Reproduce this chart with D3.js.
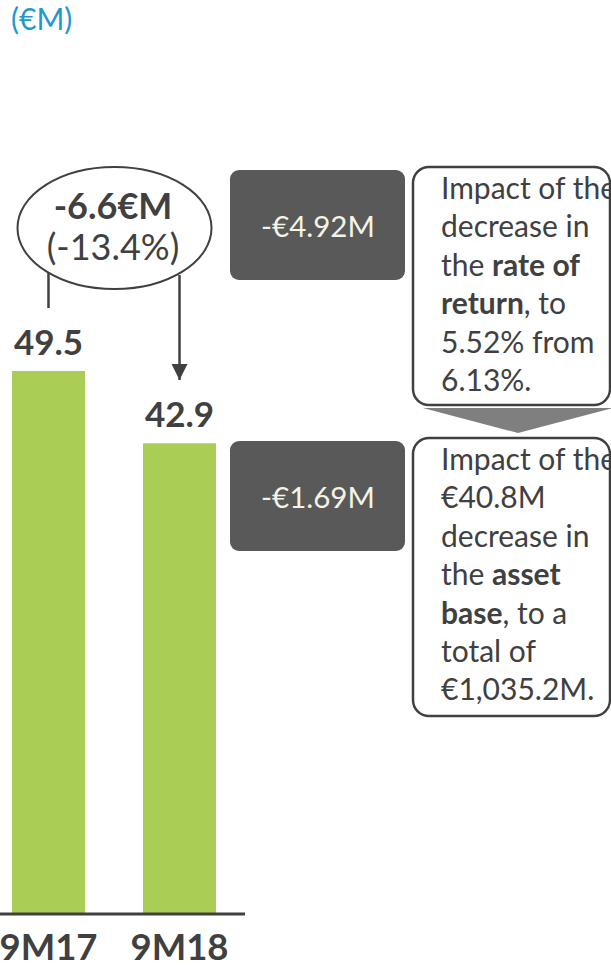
<!DOCTYPE html>
<html>
<head>
<meta charset="utf-8">
<script src="https://cdn.jsdelivr.net/npm/d3@7"></script>
<style>
  body { margin: 0; background: #fff; }
  text { font-family: Lato, "Open Sans", sans-serif; }
</style>
</head>
<body>
<script>
// Datos del gráfico
const categories = ["9M17", "9M18"];
const values = [49.5, 42.9];
const unitLabel = "(€M)";
const changeAbs = "-6.6€M";
const changePct = "(-13.4%)";
const impactValues = ["-€4.92M", "-€1.69M"];
// cada línea: lista de [texto, negrita]
const impactTexts = [
  [
    [["Impact of the", false]],
    [["decrease in", false]],
    [["the ", false], ["rate of", true]],
    [["return", true], [", to", false]],
    [["5.52% from", false]],
    [["6.13%.", false]]
  ],
  [
    [["Impact of the", false]],
    [["€40.8M", false]],
    [["decrease in", false]],
    [["the ", false], ["asset", true]],
    [["base", true], [", to a", false]],
    [["total of", false]],
    [["€1,035.2M.", false]]
  ]
];

const width = 611;
const height = 965;
const dark = "#404040";

const svg = d3.select("body").append("svg")
  .attr("width", width)
  .attr("height", height);

// Escalas
const x = d3.scaleBand()
  .domain(categories)
  .range([12, 216])
  .paddingInner(0.443)
  .paddingOuter(0);

const y = d3.scaleLinear()
  .domain([0, 50])
  .range([913, 365.5]);

// Unidad
svg.append("text")
  .attr("x", 11).attr("y", 30)
  .attr("fill", "#1f97cf")
  .attr("font-size", 30)
  .text(unitLabel);

// Barras
svg.selectAll("rect.bar")
  .data(values)
  .enter()
  .append("rect")
  .attr("class", "bar")
  .attr("x", (d, i) => x(categories[i]))
  .attr("y", d => y(d))
  .attr("width", x.bandwidth())
  .attr("height", d => y(0) - y(d))
  .attr("fill", "#a9cd55");

// Valores
svg.selectAll("text.val")
  .data(values)
  .enter()
  .append("text")
  .attr("class", "val")
  .attr("x", (d, i) => x(categories[i]) + x.bandwidth() / 2)
  .attr("y", d => y(d) - 16)
  .attr("text-anchor", "middle")
  .attr("font-size", 35)
  .attr("font-weight", "bold")
  .attr("fill", dark)
  .text(d => d.toFixed(1));

// Eje
svg.append("line")
  .attr("x1", 0).attr("x2", 245)
  .attr("y1", y(0) + 1).attr("y2", y(0) + 1)
  .attr("stroke", dark)
  .attr("stroke-width", 3);

svg.selectAll("text.cat")
  .data(categories)
  .enter()
  .append("text")
  .attr("class", "cat")
  .attr("x", d => x(d) + x.bandwidth() / 2)
  .attr("y", 960)
  .attr("text-anchor", "middle")
  .attr("font-size", 36.5)
  .attr("font-weight", "bold")
  .attr("fill", dark)
  .text(d => d);

// Elipse de variación
const cx1 = x(categories[0]) + x.bandwidth() / 2;
const cx2 = x(categories[1]) + x.bandwidth() / 2;

svg.append("defs").append("marker")
  .attr("id", "arrow")
  .attr("viewBox", "0 0 10 10")
  .attr("refX", 10).attr("refY", 5)
  .attr("markerWidth", 6.5).attr("markerHeight", 6.5)
  .attr("markerUnits", "strokeWidth")
  .attr("orient", "auto")
  .append("path")
  .attr("d", "M0,0L10,5L0,10Z")
  .attr("fill", dark);

svg.append("line")
  .attr("x1", cx1).attr("x2", cx1)
  .attr("y1", 273).attr("y2", 308)
  .attr("stroke", dark).attr("stroke-width", 2.5);

svg.append("line")
  .attr("x1", cx2).attr("x2", cx2)
  .attr("y1", 275).attr("y2", y(values[0]) + 9)
  .attr("stroke", dark).attr("stroke-width", 2.5)
  .attr("marker-end", "url(#arrow)");

svg.append("ellipse")
  .attr("cx", 114.5).attr("cy", 228)
  .attr("rx", 97).attr("ry", 61)
  .attr("fill", "#fff")
  .attr("stroke", dark)
  .attr("stroke-width", 2);

svg.append("text")
  .attr("x", 113).attr("y", 219)
  .attr("text-anchor", "middle")
  .attr("font-size", 36).attr("font-weight", "bold")
  .attr("fill", dark)
  .text(changeAbs);

svg.append("text")
  .attr("x", 113).attr("y", 260)
  .attr("text-anchor", "middle")
  .attr("font-size", 36)
  .attr("fill", dark)
  .text(changePct);

// Cajas de impacto
const boxTops = [170, 441];
const calloutTops = [167, 438];
const calloutHeights = [238, 278];

boxTops.forEach((top, i) => {
  svg.append("rect")
    .attr("x", 230).attr("y", top)
    .attr("width", 175).attr("height", 110)
    .attr("rx", 9)
    .attr("fill", "#595959");
  svg.append("text")
    .attr("x", 318).attr("y", top + 67)
    .attr("text-anchor", "middle")
    .attr("font-size", 29.5)
    .attr("fill", "#f4f4e6")
    .text(impactValues[i]);

  svg.append("rect")
    .attr("x", 413).attr("y", calloutTops[i])
    .attr("width", 197).attr("height", calloutHeights[i])
    .attr("rx", 16)
    .attr("fill", "#fff")
    .attr("stroke", dark)
    .attr("stroke-width", 2.5);

  const t = svg.append("text")
    .attr("font-size", 30)
    .attr("fill", dark);
  impactTexts[i].forEach((line, j) => {
    line.forEach((seg, k) => {
      const ts = t.append("tspan")
        .attr("font-weight", seg[1] ? "bold" : "normal")
        .text(seg[0]);
      if (k === 0) ts.attr("x", 441).attr("y", calloutTops[i] + 32 + j * 38.4);
    });
  });
});

// Flecha entre cajas
svg.append("path")
  .attr("d", "M423,408L613,408L518,433Z")
  .attr("fill", "#7f7f7f");
</script>
</body>
</html>
